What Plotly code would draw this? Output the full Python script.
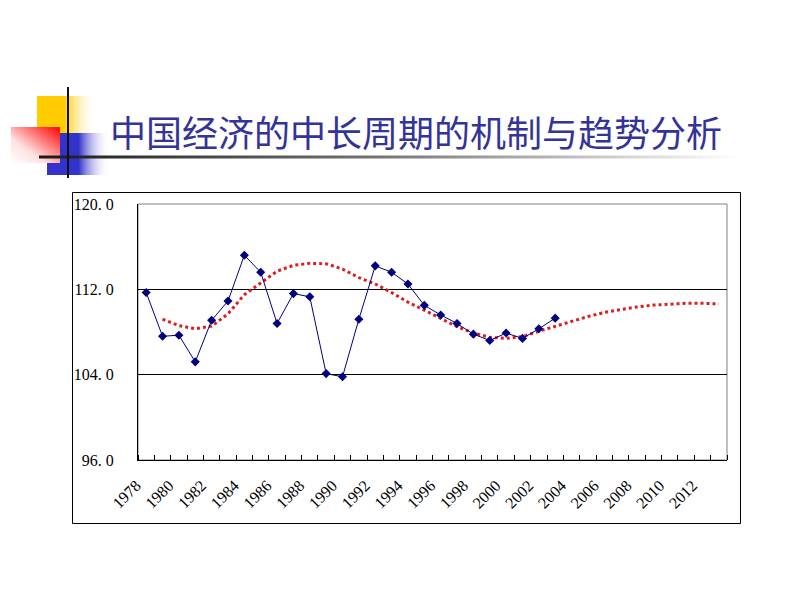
import base64
import plotly.graph_objects as go

# ---- data ----
years = list(range(1978, 2004))
actual = [111.7, 107.6, 107.7, 105.2, 109.1, 110.9, 115.2, 113.6, 108.8, 111.6,
          111.3, 104.1, 103.8, 109.2, 114.2, 113.6, 112.5, 110.5, 109.6, 108.8,
          107.8, 107.2, 107.9, 107.4, 108.3, 109.3]
trend_years = list(range(1979, 2014))
trend = [109.2, 108.6, 108.3, 108.55, 109.7, 111.5, 112.6, 113.7, 114.25, 114.44,
         114.4, 113.9, 113.1, 112.5, 111.7, 110.8, 110.05, 109.27, 108.5, 107.9,
         107.5, 107.4, 107.57, 108.07, 108.53, 109.0, 109.45, 109.83, 110.1, 110.35,
         110.52, 110.63, 110.69, 110.69, 110.63]
label_years = list(range(1978, 2014, 2))
y_ticks = [96, 104, 112, 120]
y_ticktext = ["96. 0", "104. 0", "112. 0", "120. 0"]
y_grid = [104, 112]
title = "中国经济的中长周期的机制与趋势分析"

W, H = 800, 600

# decorative header graphic (gradient blocks) as inline SVG
svg = f"""<svg xmlns='http://www.w3.org/2000/svg' width='{W}' height='{H}' viewBox='0 0 {W} {H}'>
<defs>
<linearGradient id='gy' x1='0' y1='0' x2='1' y2='0'>
<stop offset='0' stop-color='#FFCC00'/><stop offset='0.45' stop-color='#FFCC00'/>
<stop offset='1' stop-color='#FFFFFF' stop-opacity='0'/></linearGradient>
<linearGradient id='gb' x1='0' y1='0' x2='1' y2='0'>
<stop offset='0' stop-color='#3333CC'/><stop offset='0.5' stop-color='#3333CC'/>
<stop offset='1' stop-color='#FFFFFF' stop-opacity='0'/></linearGradient>
<linearGradient id='gr' x1='0' y1='1' x2='1' y2='0'>
<stop offset='0' stop-color='#FFFFFF'/><stop offset='0.35' stop-color='#FFE0E0'/>
<stop offset='1' stop-color='#FF0000'/></linearGradient>
<linearGradient id='gl' x1='0' y1='0' x2='1' y2='0'>
<stop offset='0' stop-color='#1A1A1A'/><stop offset='0.5' stop-color='#777777'/>
<stop offset='1' stop-color='#FFFFFF'/></linearGradient>
</defs>
<rect x='37' y='96' width='60' height='38' fill='url(#gy)'/>
<rect x='47' y='133' width='63' height='42' fill='url(#gb)'/>
<rect x='11' y='127' width='49' height='36' fill='url(#gr)'/>
<rect x='39' y='155.5' width='700' height='3' fill='url(#gl)'/>
<rect x='67' y='87' width='2' height='91' fill='#111111'/>
</svg>"""
svg_uri = "data:image/svg+xml;base64," + base64.b64encode(svg.encode("utf-8")).decode("ascii")

fig = go.Figure()
fig.add_trace(go.Scatter(
    x=trend_years, y=trend, mode="lines",
    line=dict(color="#D92020", width=3, dash="dot"),
    showlegend=False, hoverinfo="skip"))
fig.add_trace(go.Scatter(
    x=years, y=actual, mode="lines+markers",
    line=dict(color="#000080", width=1),
    marker=dict(symbol="diamond", size=7, color="#000080"),
    showlegend=False))

serif = "Liberation Serif, DejaVu Serif, serif"

fig.update_layout(
    width=W, height=H,
    template="none",
    margin=dict(l=0, r=0, t=0, b=0),
    paper_bgcolor="white", plot_bgcolor="white",
    showlegend=False,
    images=[dict(source=svg_uri, xref="paper", yref="paper", x=0, y=1,
                 sizex=1, sizey=1, sizing="stretch", layer="below",
                 xanchor="left", yanchor="top")],
    annotations=[dict(text=title, xref="paper", yref="paper",
                      x=108 / W, y=1 - 131 / H, xanchor="left", yanchor="middle",
                      showarrow=False,
                      font=dict(family="Noto Sans CJK SC", size=36, color="#333399"))],
    shapes=[
        # outer chart frame
        dict(type="rect", xref="paper", yref="paper",
             x0=72.5 / W, x1=740.5 / W, y0=1 - 523.5 / H, y1=1 - 192.5 / H,
             line=dict(color="black", width=1), fillcolor="rgba(0,0,0,0)", layer="below"),
        # plot area border (grey top/right)
        dict(type="rect", xref="x domain", yref="y domain", x0=0, x1=1, y0=0, y1=1,
             line=dict(color="#808080", width=1), fillcolor="rgba(0,0,0,0)", layer="below"),
    ],
    xaxis=dict(
        domain=[138 / W, 727 / W],
        range=[1977.5, 2013.5],
        tickmode="array", tickvals=label_years, ticktext=[str(v) for v in label_years],
        tickangle=-45, ticks="", showgrid=False, zeroline=False,
        showline=True, linecolor="black", linewidth=1,
        tickfont=dict(family=serif, size=16, color="black"),
        ticklabelstandoff=9, ticklabelshift=-10,
        minor=dict(tick0=1977.5, dtick=1, ticks="inside", ticklen=5,
                   tickcolor="black", tickwidth=1, showgrid=False),
        automargin=False, fixedrange=True,
    ),
    yaxis=dict(
        domain=[1 - 460 / H, 1 - 204 / H],
        range=[96, 120],
        tickmode="array", tickvals=y_ticks, ticktext=y_ticktext,
        ticks="", showgrid=False, zeroline=False,
        showline=True, linecolor="black", linewidth=1,
        tickfont=dict(family=serif, size=16, color="black"),
        ticklabelstandoff=20,
        minor=dict(tickmode="array", tickvals=y_grid, ticks="", showgrid=True,
                   gridcolor="black", gridwidth=1),
        automargin=False, fixedrange=True,
    ),
)

fig.write_html("out.html")
